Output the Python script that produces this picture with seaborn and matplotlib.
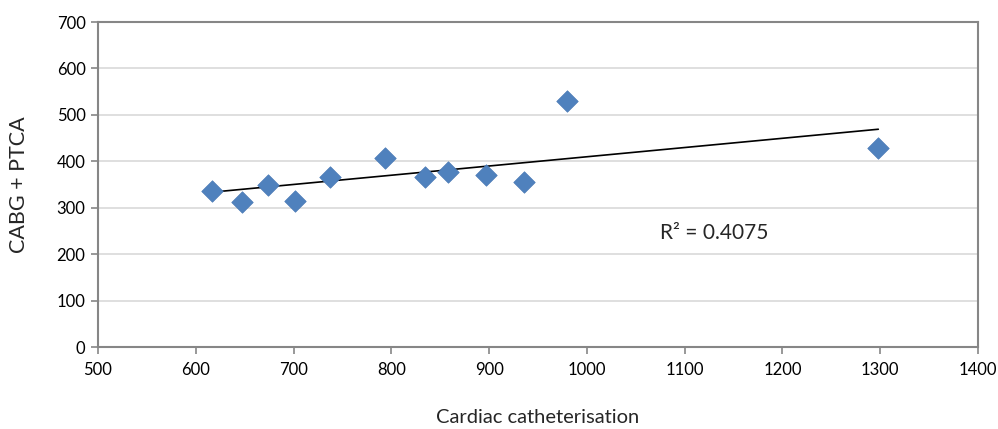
import matplotlib
matplotlib.use("Agg")
import matplotlib.pyplot as plt
import seaborn as sns
import numpy as np
import pandas as pd

# Data
cardiac_cath = [617, 647, 674, 701, 737, 793, 834, 858, 897, 936, 980, 1298]
cabg_ptca = [337, 312, 349, 315, 366, 408, 366, 376, 371, 355, 530, 429]
r2_label = "R² = 0.4075"
x_ticks = [500, 600, 700, 800, 900, 1000, 1100, 1200, 1300, 1400]
y_ticks = [0, 100, 200, 300, 400, 500, 600, 700]

df = pd.DataFrame({"Cardiac catheterisation": cardiac_cath, "CABG + PTCA": cabg_ptca})

sns.set_theme(style="white")
plt.rcParams['font.family'] = ['Lato', 'DejaVu Sans']

fig = plt.figure(figsize=(9.98, 4.29), dpi=100)
ax = fig.add_axes([0.0982, 0.1911, 0.8818, 0.7576])

axis_gray = "#868686"
grid_gray = "#d9d9d9"

ax.set_axisbelow(True)
ax.yaxis.grid(True, color=grid_gray, linewidth=1.2)
ax.xaxis.grid(False)

sns.regplot(data=df, x="Cardiac catheterisation", y="CABG + PTCA", ax=ax, ci=None,
            marker="D",
            scatter_kws=dict(s=120, color="#4f81bd", edgecolor="#4a7ab5", linewidths=0.5,
                             alpha=1.0, zorder=3),
            line_kws=dict(color="black", linewidth=1.2, zorder=2))

ax.set_xlim(500, 1400)
ax.set_ylim(0, 700)
ax.set_xticks(x_ticks)
ax.set_yticks(y_ticks)
ax.tick_params(axis="both", which="both", labelsize=12, colors="black",
               length=5, width=1.2, direction="out", bottom=True, left=True)
ax.tick_params(axis="x", color=axis_gray, pad=6)
ax.tick_params(axis="y", color=axis_gray, pad=4)

for side in ["left", "right", "top", "bottom"]:
    ax.spines[side].set_visible(True)
    ax.spines[side].set_color(axis_gray)
    ax.spines[side].set_linewidth(1.5)

ax.set_xlabel("Cardiac catheterisation", fontsize=14.5, labelpad=22)
ax.set_ylabel("CABG + PTCA", fontsize=15.5, labelpad=20)

ax.text(1075, 245, r2_label, fontsize=15, ha="left", va="center")

fig.savefig("out.png", dpi=100)
